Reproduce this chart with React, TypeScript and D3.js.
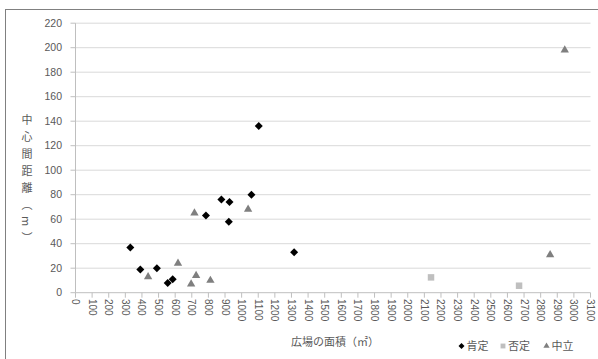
import React from 'react'
import * as d3 from 'd3'

// 広場の面積 (㎡) vs 中心間距離 (m)
const positive = [
  [330, 37], [390, 19], [490, 20], [555, 8], [585, 11], [785, 63],
  [878, 76], [927, 74], [923, 58], [1059, 80], [1103, 136], [1316, 33],
]
const negative = [[2140, 12.5], [2670, 5.7]]
const neutral = [
  [437, 13], [617, 24], [716, 65], [726, 14], [696, 7], [812, 10],
  [1039, 68], [2945, 198], [2857, 31],
]

const xTicks = d3.range(0, 3101, 100)
const yTicks = d3.range(0, 221, 20)
const legendLabels = ['肯定', '否定', '中立']

const W = 598
const H = 359
const jp = '"Noto Sans CJK JP", sans-serif'
const num = '"Liberation Sans", Arial, sans-serif'
const textColor = '#595959'

export default function App() {
  const x = d3.scaleLinear().domain([0, 3100]).range([75.5, 590.5])
  const y = d3.scaleLinear().domain([0, 220]).range([292.7, 23.2])

  const diamond = d3.symbol().type(d3.symbolSquare).size(32)()
  const square = d3.symbol().type(d3.symbolSquare).size(42)()
  const triangle = d3.symbol().type(d3.symbolTriangle).size(30)()

  const series = [
    { data: positive, path: diamond, rotate: 45, fill: '#000000' },
    { data: negative, path: square, rotate: 0, fill: '#bfbfbf' },
    { data: neutral, path: triangle, rotate: 0, fill: '#7f7f7f' },
  ]

  const legendX = [461.5, 503, 546.5]

  return (
    <svg width={W} height={H} style={{ position: 'absolute', left: 0, top: 0, background: '#fff' }}>
      <rect x={5.5} y={9.5} width={W + 10} height={H + 10} fill="#fff" stroke="#808080" strokeWidth={1} />

      {/* gridlines */}
      {yTicks.filter(t => t > 0).map(t => (
        <line key={t} x1={x(0)} x2={x(3100)} y1={y(t)} y2={y(t)} stroke="#d9d9d9" strokeWidth={1} />
      ))}

      {/* axes */}
      <line x1={x(0)} x2={x(3100)} y1={y(0)} y2={y(0)} stroke="#bfbfbf" />
      <line x1={x(0)} x2={x(0)} y1={y(0)} y2={y(220)} stroke="#bfbfbf" />

      {yTicks.map(t => (
        <g key={t}>
          <line x1={x(0) - 5} x2={x(0)} y1={y(t)} y2={y(t)} stroke="#bfbfbf" />
          <text x={62} y={y(t)} dy="0.35em" textAnchor="end" fontSize={10.5} fontFamily={num} fill={textColor}>
            {t}
          </text>
        </g>
      ))}

      {xTicks.map(t => (
        <g key={t}>
          <line x1={x(t)} x2={x(t)} y1={y(0)} y2={y(0) + 5} stroke="#bfbfbf" />
          <text
            transform={`translate(${x(t)},${299}) rotate(90)`}
            dominantBaseline="central"
            fontSize={10}
            fontFamily={num}
            fill={textColor}
          >
            {t}
          </text>
        </g>
      ))}

      {/* markers */}
      {series.map((s, i) => (
        <g key={i}>
          {s.data.map((d, j) => (
            <path
              key={j}
              d={s.path}
              fill={s.fill}
              transform={`translate(${x(d[0])},${y(d[1])}) rotate(${s.rotate})`}
            />
          ))}
        </g>
      ))}

      {/* axis titles */}
      <text
        x={27}
        y={114}
        style={{ writingMode: 'vertical-rl' }}
        fontSize={11}
        letterSpacing={6}
        fontFamily={jp}
        fill={textColor}
      >
        中心間距離（m）
      </text>
      <text x={335} y={346} textAnchor="middle" fontSize={11} fontFamily={jp} fill={textColor}>
        広場の面積（㎡）
      </text>

      {/* legend */}
      {series.map((s, i) => (
        <g key={i} transform={`translate(${legendX[i]},${346})`}>
          <path d={s.path} fill={s.fill} transform={`scale(0.75) rotate(${s.rotate})`} />
          <text x={5} dy="0.35em" fontSize={11} fontFamily={jp} fill={textColor}>
            {legendLabels[i]}
          </text>
        </g>
      ))}
    </svg>
  )
}
